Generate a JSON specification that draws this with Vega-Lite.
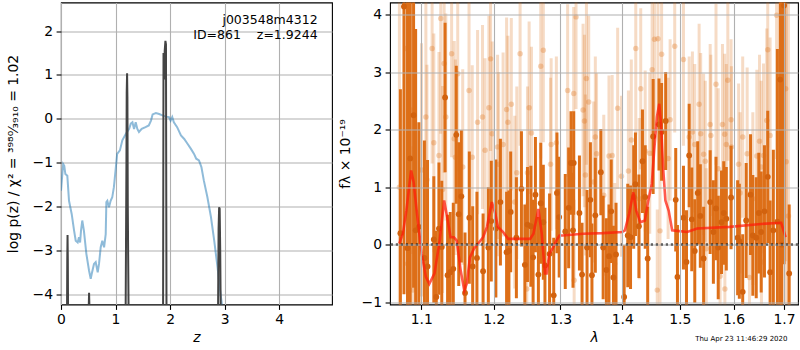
{
  "$schema": "https://vega.github.io/schema/vega-lite/v6.json",
  "padding": {"left": 5, "top": 1.5, "right": 0, "bottom": 0},
  "bounds": "flush",
  "spacing": 58,
  "config": {
    "font": "DejaVu Sans",
    "view": {"stroke": "black", "strokeWidth": 1.1},
    "axis": {"domain": false, "tickColor": "black", "tickSize": 4.9, "tickWidth": 1.1, "labelFontSize": 13.9, "labelColor": "black", "labelPadding": 3.5, "labelFlush": false, "labelOverlap": false, "gridColor": "#b0b0b0", "gridWidth": 1.1, "gridOpacity": 1, "titleFontSize": 13.9, "titleFontWeight": "normal", "titleColor": "black"}
  },
  "datasets": {
    "pz": [
      {"z":0,"lp":-1.64},{"z":0.012,"lp":-1.45},{"z":0.04,"lp":-1.03},{"z":0.06,"lp":-1.07},{"z":0.08,"lp":-1.26},{"z":0.116,"lp":-1.3},{"z":0.147,"lp":-1.87},{"z":0.196,"lp":-2.17},{"z":0.24,"lp":-2.55},{"z":0.27,"lp":-2.78},{"z":0.306,"lp":-2.82},{"z":0.33,"lp":-2.7},{"z":0.35,"lp":-2.82},{"z":0.367,"lp":-2.55},{"z":0.39,"lp":-2.32},{"z":0.42,"lp":-2.55},{"z":0.465,"lp":-3.08},{"z":0.514,"lp":-3.46},{"z":0.545,"lp":-3.65},{"z":0.563,"lp":-3.54},{"z":0.605,"lp":-3.31},{"z":0.636,"lp":-3.27},{"z":0.673,"lp":-3.5},{"z":0.697,"lp":-3.31},{"z":0.728,"lp":-2.93},{"z":0.758,"lp":-2.78},{"z":0.79,"lp":-2.93},{"z":0.82,"lp":-2.63},{"z":0.832,"lp":-1.9},{"z":0.85,"lp":-1.87},{"z":0.88,"lp":-2.02},{"z":0.91,"lp":-1.87},{"z":0.94,"lp":-1.79},{"z":0.97,"lp":-1.56},{"z":1.0,"lp":-1.18},{"z":1.03,"lp":-0.8},{"z":1.08,"lp":-0.72},{"z":1.125,"lp":-0.49},{"z":1.19,"lp":-0.34},{"z":1.25,"lp":-0.23},{"z":1.28,"lp":-0.11},{"z":1.31,"lp":-0.08},{"z":1.34,"lp":-0.23},{"z":1.37,"lp":-0.08},{"z":1.4,"lp":-0.23},{"z":1.43,"lp":-0.3},{"z":1.48,"lp":-0.23},{"z":1.55,"lp":-0.19},{"z":1.61,"lp":-0.15},{"z":1.65,"lp":-0.04},{"z":1.68,"lp":0.1},{"z":1.74,"lp":0.13},{"z":1.8,"lp":0.11},{"z":1.86,"lp":0.08},{"z":1.92,"lp":0.05},{"z":1.98,"lp":0.04},{"z":2.01,"lp":-0.04},{"z":2.04,"lp":0.04},{"z":2.07,"lp":-0.08},{"z":2.13,"lp":-0.19},{"z":2.2,"lp":-0.38},{"z":2.26,"lp":-0.46},{"z":2.32,"lp":-0.57},{"z":2.38,"lp":-0.68},{"z":2.44,"lp":-0.8},{"z":2.48,"lp":-0.91},{"z":2.53,"lp":-0.95},{"z":2.575,"lp":-1.1},{"z":2.62,"lp":-1.41},{"z":2.685,"lp":-1.79},{"z":2.75,"lp":-2.24},{"z":2.81,"lp":-2.78},{"z":2.87,"lp":-3.38},{"z":2.91,"lp":-3.84},{"z":2.95,"lp":-4.22},{"z":2.97,"lp":-4.5}
    ],
    "spikes": [
      {"pk":"a","z":0.11,"lp":-4.5},{"pk":"a","z":0.115,"lp":-3.2},{"pk":"a","z":0.12,"lp":-2.65},{"pk":"a","z":0.125,"lp":-3.2},{"pk":"a","z":0.13,"lp":-4.5},
      {"pk":"b","z":0.505,"lp":-4.5},{"pk":"b","z":0.515,"lp":-3.97},{"pk":"b","z":0.525,"lp":-4.5},
      {"pk":"c","z":1.185,"lp":-4.5},{"pk":"c","z":1.2,"lp":-1},{"pk":"c","z":1.205,"lp":0.6},{"pk":"c","z":1.212,"lp":1.04},{"pk":"c","z":1.218,"lp":0.5},{"pk":"c","z":1.225,"lp":-2},{"pk":"c","z":1.24,"lp":-4.5},
      {"pk":"d","z":1.872,"lp":-4.5},{"pk":"d","z":1.88,"lp":1.5},{"pk":"d","z":1.89,"lp":0.9},{"pk":"d","z":1.902,"lp":1.55},{"pk":"d","z":1.915,"lp":1.78},{"pk":"d","z":1.925,"lp":1.7},{"pk":"d","z":1.935,"lp":-4.5},
      {"pk":"e","z":2.88,"lp":-4.5},{"pk":"e","z":2.89,"lp":-2.5},{"pk":"e","z":2.9,"lp":-2.02},{"pk":"e","z":2.91,"lp":-2.05},{"pk":"e","z":2.92,"lp":-3},{"pk":"e","z":2.93,"lp":-4.5}
    ],
    "ann": [
      {"z":4.706,"lp":2.25,"t":"j003548m4312"},
      {"z":4.706,"lp":1.907,"t":"ID=861\u00a0\u00a0\u00a0\u00a0z=1.9244"}
    ],
    "dark": [
      {"lam":1.0728,"f":0.2,"e":2.5},{"lam":1.0774,"f":4.14,"e":5},{"lam":1.082,"f":-0.06,"e":4.5},{"lam":1.0855,"f":1.5,"e":3.2},{"lam":1.0899,"f":2.25,"e":3},{"lam":1.0926,"f":0.25,"e":3.5},{"lam":1.0968,"f":0.31,"e":1.82},{"lam":1.1042,"f":-0.23,"e":2.04},{"lam":1.1083,"f":-0.38,"e":1.85},{"lam":1.1167,"f":0.09,"e":1.1},{"lam":1.12,"f":-0.91,"e":1.15},{"lam":1.1236,"f":0.28,"e":1.15},{"lam":1.1274,"f":-0.04,"e":1.15},{"lam":1.1319,"f":2.56,"e":1.3},{"lam":1.1353,"f":-0.53,"e":1.05},{"lam":1.1389,"f":-0.48,"e":1.05},{"lam":1.1431,"f":-0.42,"e":1.15},{"lam":1.1472,"f":1.91,"e":1.2},{"lam":1.1506,"f":0.53,"e":1.25},{"lam":1.1542,"f":0.84,"e":1.15},{"lam":1.1593,"f":-0.84,"e":1.05},{"lam":1.1653,"f":0.47,"e":1.15},{"lam":1.17,"f":-0.38,"e":1.05},{"lam":1.176,"f":-0.23,"e":1.15},{"lam":1.1847,"f":-0.46,"e":1.0},{"lam":1.1922,"f":-0.05,"e":1.05},{"lam":1.1964,"f":0.41,"e":1.05},{"lam":1.203,"f":0.28,"e":1.2},{"lam":1.2096,"f":0.74,"e":1.1},{"lam":1.2186,"f":-0.13,"e":1.05},{"lam":1.222,"f":-0.11,"e":1.05},{"lam":1.2246,"f":0.57,"e":1.05},{"lam":1.233,"f":0.12,"e":1.05},{"lam":1.2405,"f":0.97,"e":1.0},{"lam":1.2456,"f":-0.35,"e":1.05},{"lam":1.2495,"f":0.35,"e":1.0},{"lam":1.2546,"f":0.32,"e":1.05},{"lam":1.258,"f":-0.22,"e":1.0},{"lam":1.2615,"f":0.87,"e":1.0},{"lam":1.266,"f":-0.52,"e":1.0},{"lam":1.2696,"f":0.72,"e":1.05},{"lam":1.2735,"f":0.39,"e":1.0},{"lam":1.276,"f":-0.36,"e":1.0},{"lam":1.2831,"f":-0.16,"e":1.05},{"lam":1.2895,"f":-0.88,"e":1.0},{"lam":1.2945,"f":0.9,"e":1.05},{"lam":1.298,"f":0.48,"e":1.05},{"lam":1.3075,"f":0.23,"e":1.0},{"lam":1.3128,"f":0.64,"e":1.05},{"lam":1.3165,"f":1.42,"e":0.9},{"lam":1.3197,"f":0.25,"e":1.0},{"lam":1.3208,"f":1.42,"e":0.9},{"lam":1.3299,"f":0.55,"e":1.0},{"lam":1.3341,"f":-0.52,"e":0.9},{"lam":1.3421,"f":-0.05,"e":1.0},{"lam":1.3475,"f":0.78,"e":1.0},{"lam":1.35,"f":-0.53,"e":0.9},{"lam":1.3555,"f":0.51,"e":1.0},{"lam":1.3645,"f":1.26,"e":0.75},{"lam":1.3683,"f":-0.05,"e":0.9},{"lam":1.3736,"f":-0.44,"e":0.9},{"lam":1.3779,"f":-0.2,"e":0.9},{"lam":1.3816,"f":0.58,"e":0.9},{"lam":1.3853,"f":-0.57,"e":0.9},{"lam":1.3896,"f":-0.17,"e":0.9},{"lam":1.4032,"f":-0.91,"e":0.9},{"lam":1.4093,"f":0.16,"e":0.9},{"lam":1.414,"f":0.13,"e":0.9},{"lam":1.4194,"f":0.83,"e":0.9},{"lam":1.4224,"f":1.05,"e":0.9},{"lam":1.4283,"f":0.32,"e":0.9},{"lam":1.4344,"f":1.45,"e":0.9},{"lam":1.4391,"f":0.83,"e":0.9},{"lam":1.4434,"f":-0.24,"e":0.9},{"lam":1.4529,"f":1.88,"e":1.0},{"lam":1.4631,"f":2.09,"e":0.8},{"lam":1.4677,"f":1.96,"e":0.85},{"lam":1.4749,"f":2.15,"e":0.85},{"lam":1.4928,"f":0.78,"e":0.9},{"lam":1.4959,"f":-0.56,"e":0.9},{"lam":1.5067,"f":0.47,"e":0.9},{"lam":1.5122,"f":-0.3,"e":0.9},{"lam":1.5171,"f":1.55,"e":0.9},{"lam":1.5218,"f":0.44,"e":0.9},{"lam":1.5273,"f":-0.11,"e":0.9},{"lam":1.5327,"f":0.9,"e":0.9},{"lam":1.5375,"f":0.5,"e":0.9},{"lam":1.5436,"f":-0.24,"e":0.9},{"lam":1.5558,"f":0.74,"e":0.9},{"lam":1.5618,"f":0.22,"e":0.9},{"lam":1.5667,"f":0.63,"e":0.9},{"lam":1.5709,"f":-0.05,"e":0.9},{"lam":1.5771,"f":0.39,"e":0.9},{"lam":1.5813,"f":0.55,"e":0.9},{"lam":1.5862,"f":0.45,"e":0.9},{"lam":1.5953,"f":0.82,"e":0.9},{"lam":1.6079,"f":0.12,"e":1.0},{"lam":1.6112,"f":0.06,"e":1.0},{"lam":1.6177,"f":-0.82,"e":1.0},{"lam":1.6245,"f":0.42,"e":1.0},{"lam":1.633,"f":0.87,"e":1.05},{"lam":1.6375,"f":0.16,"e":1.05},{"lam":1.6442,"f":0.12,"e":1.05},{"lam":1.6493,"f":0.55,"e":1.05},{"lam":1.654,"f":0.22,"e":1.05},{"lam":1.6605,"f":0.58,"e":1.15},{"lam":1.6671,"f":1.18,"e":1.15},{"lam":1.6718,"f":-0.48,"e":1.25},{"lam":1.6783,"f":0.25,"e":1.4},{"lam":1.6865,"f":0.4,"e":3.0},{"lam":1.6921,"f":2.87,"e":4.0},{"lam":1.6955,"f":0.0,"e":4.5},{"lam":1.7,"f":4.16,"e":4.5},{"lam":1.7105,"f":-0.5,"e":1.2}
    ],
    "light": [
      {"lam":1.0715,"f":1.0,"e":5},{"lam":1.0797,"f":3.41,"e":3},{"lam":1.082,"f":-0.33,"e":3},{"lam":1.0867,"f":2.34,"e":2.5},{"lam":1.089,"f":-0.79,"e":2.5},{"lam":1.1003,"f":1.3,"e":2.2},{"lam":1.1061,"f":2.22,"e":2.0},{"lam":1.1075,"f":1.13,"e":2.0},{"lam":1.1144,"f":3.41,"e":2.0},{"lam":1.1167,"f":1.77,"e":1.9},{"lam":1.1236,"f":1.55,"e":1.8},{"lam":1.126,"f":3.93,"e":2.0},{"lam":1.1285,"f":0.96,"e":1.8},{"lam":1.1306,"f":3.15,"e":1.9},{"lam":1.1329,"f":2.22,"e":1.8},{"lam":1.1408,"f":3.32,"e":1.8},{"lam":1.1444,"f":1.84,"e":1.7},{"lam":1.146,"f":1.52,"e":1.7},{"lam":1.1492,"f":2.97,"e":1.7},{"lam":1.1561,"f":1.35,"e":1.7},{"lam":1.1649,"f":2.68,"e":1.7},{"lam":1.1694,"f":1.52,"e":1.6},{"lam":1.1769,"f":2.13,"e":1.6},{"lam":1.1839,"f":2.22,"e":1.6},{"lam":1.1875,"f":1.64,"e":1.6},{"lam":1.193,"f":2.38,"e":1.6},{"lam":1.1954,"f":3.23,"e":1.6},{"lam":1.1978,"f":1.93,"e":1.6},{"lam":1.2055,"f":1.7,"e":1.6},{"lam":1.207,"f":1.4,"e":1.6},{"lam":1.2135,"f":1.74,"e":1.6},{"lam":1.2186,"f":2.35,"e":1.6},{"lam":1.2205,"f":2.13,"e":1.5},{"lam":1.2255,"f":2.44,"e":1.5},{"lam":1.2306,"f":0.74,"e":1.5},{"lam":1.2336,"f":1.25,"e":1.5},{"lam":1.2385,"f":3.32,"e":1.6},{"lam":1.2485,"f":-0.77,"e":1.5},{"lam":1.2495,"f":1.25,"e":1.5},{"lam":1.252,"f":2.38,"e":1.5},{"lam":1.2555,"f":1.94,"e":1.5},{"lam":1.2696,"f":3.1,"e":1.6},{"lam":1.2735,"f":3.38,"e":1.6},{"lam":1.2846,"f":1.4,"e":1.5},{"lam":1.2855,"f":1.74,"e":1.5},{"lam":1.2936,"f":1.77,"e":1.5},{"lam":1.3112,"f":2.68,"e":1.5},{"lam":1.3208,"f":2.63,"e":1.5},{"lam":1.3215,"f":-0.62,"e":1.4},{"lam":1.3245,"f":3.96,"e":1.6},{"lam":1.3357,"f":2.34,"e":1.5},{"lam":1.3379,"f":2.15,"e":1.5},{"lam":1.3395,"f":1.21,"e":1.4},{"lam":1.3411,"f":2.89,"e":1.5},{"lam":1.3448,"f":2.48,"e":1.5},{"lam":1.3528,"f":1.09,"e":1.4},{"lam":1.3555,"f":1.87,"e":1.4},{"lam":1.3575,"f":1.58,"e":1.4},{"lam":1.3693,"f":0.86,"e":1.4},{"lam":1.3779,"f":1.54,"e":1.4},{"lam":1.3832,"f":1.55,"e":1.4},{"lam":1.3874,"f":-0.33,"e":1.4},{"lam":1.3923,"f":2.37,"e":1.4},{"lam":1.3987,"f":1.19,"e":1.4},{"lam":1.4104,"f":1.28,"e":1.4},{"lam":1.4153,"f":1.82,"e":1.4},{"lam":1.4229,"f":3.41,"e":1.5},{"lam":1.4289,"f":0.8,"e":1.4},{"lam":1.4314,"f":2.71,"e":1.4},{"lam":1.4391,"f":1.63,"e":1.4},{"lam":1.447,"f":1.59,"e":1.4},{"lam":1.4511,"f":3.04,"e":1.5},{"lam":1.4552,"f":3.57,"e":1.5},{"lam":1.4601,"f":-0.79,"e":1.4},{"lam":1.4613,"f":3.58,"e":1.5},{"lam":1.4649,"f":0.24,"e":1.4},{"lam":1.4677,"f":3.31,"e":1.5},{"lam":1.4792,"f":1.5,"e":1.4},{"lam":1.4828,"f":2.17,"e":1.4},{"lam":1.491,"f":3.45,"e":1.5},{"lam":1.5067,"f":3.22,"e":1.5},{"lam":1.5171,"f":1.87,"e":1.4},{"lam":1.523,"f":1.96,"e":1.4},{"lam":1.5273,"f":1.74,"e":1.4},{"lam":1.5353,"f":2.44,"e":1.4},{"lam":1.5382,"f":1.93,"e":1.4},{"lam":1.5436,"f":1.57,"e":1.4},{"lam":1.5467,"f":1.45,"e":1.4},{"lam":1.5485,"f":-0.07,"e":1.4},{"lam":1.5558,"f":2.09,"e":1.4},{"lam":1.557,"f":1.9,"e":1.4},{"lam":1.5667,"f":2.79,"e":1.4},{"lam":1.5709,"f":1.32,"e":1.4},{"lam":1.5744,"f":-0.55,"e":1.4},{"lam":1.5789,"f":2.09,"e":1.4},{"lam":1.5831,"f":1.92,"e":1.4},{"lam":1.5835,"f":-0.77,"e":1.4},{"lam":1.5862,"f":1.74,"e":1.4},{"lam":1.5891,"f":2.86,"e":1.4},{"lam":1.5953,"f":2.17,"e":1.4},{"lam":1.596,"f":1.7,"e":1.4},{"lam":1.6098,"f":1.4,"e":1.4},{"lam":1.6126,"f":0.9,"e":1.4},{"lam":1.6177,"f":1.87,"e":1.4},{"lam":1.6264,"f":1.58,"e":1.5},{"lam":1.6309,"f":-0.57,"e":1.5},{"lam":1.6375,"f":0.8,"e":1.5},{"lam":1.6454,"f":1.54,"e":1.5},{"lam":1.6507,"f":1.8,"e":1.5},{"lam":1.654,"f":1.35,"e":1.5},{"lam":1.6545,"f":-0.3,"e":1.5},{"lam":1.6586,"f":1.55,"e":1.6},{"lam":1.6651,"f":2.16,"e":1.6},{"lam":1.6671,"f":3.39,"e":1.7},{"lam":1.6718,"f":1.9,"e":1.7},{"lam":1.6849,"f":3.99,"e":2.5},{"lam":1.693,"f":1.0,"e":4.5},{"lam":1.7033,"f":2.71,"e":3},{"lam":1.7045,"f":1.44,"e":3},{"lam":1.709,"f":0.5,"e":4}
    ],
    "model": [
      {"lam":1.0714,"f":0.02},{"lam":1.076,"f":0.19},{"lam":1.0806,"f":0.6},{"lam":1.0867,"f":1.29},{"lam":1.0899,"f":1.09},{"lam":1.0944,"f":0.54},{"lam":1.1006,"f":-0.16},{"lam":1.1061,"f":-0.56},{"lam":1.1107,"f":-0.68},{"lam":1.1176,"f":-0.5},{"lam":1.1246,"f":0.07},{"lam":1.1306,"f":0.77},{"lam":1.1347,"f":0.48},{"lam":1.1394,"f":0.13},{"lam":1.144,"f":0.13},{"lam":1.1478,"f":0.07},{"lam":1.1533,"f":-0.45},{"lam":1.1583,"f":-0.8},{"lam":1.1617,"f":-0.68},{"lam":1.1662,"f":-0.22},{"lam":1.1718,"f":-0.07},{"lam":1.1778,"f":0.02},{"lam":1.1847,"f":0.13},{"lam":1.1903,"f":0.31},{"lam":1.1972,"f":0.74},{"lam":1.2021,"f":0.54},{"lam":1.206,"f":0.31},{"lam":1.2135,"f":0.22},{"lam":1.221,"f":0.1},{"lam":1.2336,"f":0.1},{"lam":1.2535,"f":0.1},{"lam":1.2585,"f":0.19},{"lam":1.266,"f":0.62},{"lam":1.2711,"f":0.19},{"lam":1.276,"f":-0.5},{"lam":1.2786,"f":-0.5},{"lam":1.2825,"f":-0.16},{"lam":1.2876,"f":-0.07},{"lam":1.2936,"f":0.07},{"lam":1.2985,"f":0.16},{"lam":1.3034,"f":0.16},{"lam":1.3355,"f":0.19},{"lam":1.3677,"f":0.2},{"lam":1.3997,"f":0.22},{"lam":1.4045,"f":0.25},{"lam":1.4117,"f":0.54},{"lam":1.4188,"f":0.91},{"lam":1.4237,"f":0.59},{"lam":1.4308,"f":0.39},{"lam":1.4385,"f":0.42},{"lam":1.4445,"f":0.77},{"lam":1.4506,"f":1.06},{"lam":1.4547,"f":1.64},{"lam":1.4595,"f":2.22},{"lam":1.4636,"f":2.45},{"lam":1.4667,"f":2.1},{"lam":1.4703,"f":1.35},{"lam":1.4744,"f":0.77},{"lam":1.4803,"f":0.59},{"lam":1.4864,"f":0.25},{"lam":1.4954,"f":0.24},{"lam":1.5135,"f":0.22},{"lam":1.5317,"f":0.28},{"lam":1.5924,"f":0.31},{"lam":1.6538,"f":0.36},{"lam":1.6941,"f":0.38},{"lam":1.7033,"f":0.13}
    ],
    "zero": [{"f":0}],
    "stamp": [{"lam":1.615,"f":-1.647,"t":"Thu Apr 23 11:46:29 2020"}]
  },
  "hconcat": [
    {
      "width": 271,
      "height": 302,
      "layer": [
        {
          "data": {"name": "pz"},
          "mark": {"type": "line", "color": "#1f77b4", "opacity": 0.5, "strokeWidth": 2, "clip": true},
          "encoding": {
            "x": {"field": "z", "type": "quantitative", "title": "z", "scale": {"domain": [0, 4.97], "nice": false, "zero": false}, "axis": {"titleFontStyle": "italic", "values": [0, 1, 2, 3, 4], "format": "d", "titlePadding": 4}},
            "y": {"field": "lp", "type": "quantitative", "title": "log p(z) / χ² = ³⁹⁸⁰⁄₃₉₁₀ = 1.02", "scale": {"domain": [-4.236, 2.654], "nice": false, "zero": false}, "axis": {"values": [-4, -3, -2, -1, 0, 1, 2], "format": "d", "titlePadding": 12}}
          }
        },
        {
          "data": {"name": "spikes"},
          "mark": {"type": "line", "color": "#444444", "strokeWidth": 2, "clip": true},
          "encoding": {
            "x": {"field": "z", "type": "quantitative", "title": "z", "scale": {"domain": [0, 4.97], "nice": false, "zero": false}},
            "y": {"field": "lp", "type": "quantitative", "title": "log p(z) / χ² = ³⁹⁸⁰⁄₃₉₁₀ = 1.02", "scale": {"domain": [-4.236, 2.654], "nice": false, "zero": false}},
            "detail": {"field": "pk"}
          }
        },
        {
          "data": {"name": "ann"},
          "mark": {"type": "text", "align": "right", "baseline": "middle", "fontSize": 12.5, "color": "black"},
          "encoding": {
            "x": {"field": "z", "type": "quantitative", "title": "z", "scale": {"domain": [0, 4.97], "nice": false, "zero": false}},
            "y": {"field": "lp", "type": "quantitative", "title": "log p(z) / χ² = ³⁹⁸⁰⁄₃₉₁₀ = 1.02", "scale": {"domain": [-4.236, 2.654], "nice": false, "zero": false}},
            "text": {"field": "t"}
          }
        }
      ]
    },
    {
      "width": 408,
      "height": 302,
      "layer": [
        {
          "data": {"name": "light"},
          "mark": {"type": "errorbar", "color": "#dd6f18", "opacity": 0.25, "thickness": 3, "clip": true},
          "encoding": {
            "x": {"field": "lam", "type": "quantitative", "title": "λ", "scale": {"type": "log", "domain": [1.0595, 1.7287], "nice": false, "zero": false}, "axis": {"titleFontStyle": "italic", "values": [1.1, 1.2, 1.3, 1.4, 1.5, 1.6, 1.7], "format": ".1f", "titlePadding": 4, "zindex": 1}},
            "y": {"field": "f", "type": "quantitative", "title": "fλ × 10⁻¹⁹", "scale": {"domain": [-1.04, 4.21], "nice": false, "zero": false}, "axis": {"values": [-1, 0, 1, 2, 3, 4], "format": "d", "titlePadding": 9, "zindex": 1}},
            "yError": {"field": "e"}
          }
        },
        {
          "data": {"name": "light"},
          "mark": {"type": "circle", "color": "#dd6f18", "opacity": 0.3, "size": 30, "clip": true},
          "encoding": {
            "x": {"field": "lam", "type": "quantitative", "title": "λ", "scale": {"type": "log", "domain": [1.0595, 1.7287], "nice": false, "zero": false}},
            "y": {"field": "f", "type": "quantitative", "title": "fλ × 10⁻¹⁹", "scale": {"domain": [-1.04, 4.21], "nice": false, "zero": false}}
          }
        },
        {
          "data": {"name": "dark"},
          "mark": {"type": "errorbar", "color": "#dd6f18", "opacity": 1, "thickness": 3, "clip": true},
          "encoding": {
            "x": {"field": "lam", "type": "quantitative", "title": "λ", "scale": {"type": "log", "domain": [1.0595, 1.7287], "nice": false, "zero": false}},
            "y": {"field": "f", "type": "quantitative", "title": "fλ × 10⁻¹⁹", "scale": {"domain": [-1.04, 4.21], "nice": false, "zero": false}},
            "yError": {"field": "e"}
          }
        },
        {
          "data": {"name": "dark"},
          "mark": {"type": "circle", "color": "#d2620e", "opacity": 1, "size": 34, "clip": true},
          "encoding": {
            "x": {"field": "lam", "type": "quantitative", "title": "λ", "scale": {"type": "log", "domain": [1.0595, 1.7287], "nice": false, "zero": false}},
            "y": {"field": "f", "type": "quantitative", "title": "fλ × 10⁻¹⁹", "scale": {"domain": [-1.04, 4.21], "nice": false, "zero": false}}
          }
        },
        {
          "data": {"name": "model"},
          "mark": {"type": "line", "color": "#ff1a0a", "opacity": 0.72, "strokeWidth": 2.6, "clip": true},
          "encoding": {
            "x": {"field": "lam", "type": "quantitative", "title": "λ", "scale": {"type": "log", "domain": [1.0595, 1.7287], "nice": false, "zero": false}},
            "y": {"field": "f", "type": "quantitative", "title": "fλ × 10⁻¹⁹", "scale": {"domain": [-1.04, 4.21], "nice": false, "zero": false}}
          }
        },
        {
          "data": {"name": "zero"},
          "mark": {"type": "rule", "color": "#111111", "strokeWidth": 2.2, "strokeDash": [2.2, 2.8], "strokeCap": "butt"},
          "encoding": {"y": {"field": "f", "type": "quantitative", "title": "fλ × 10⁻¹⁹", "scale": {"domain": [-1.04, 4.21], "nice": false, "zero": false}}}
        },
        {
          "data": {"name": "stamp"},
          "mark": {"type": "text", "align": "center", "baseline": "middle", "fontSize": 7, "color": "black"},
          "encoding": {
            "x": {"field": "lam", "type": "quantitative", "title": "λ", "scale": {"type": "log", "domain": [1.0595, 1.7287], "nice": false, "zero": false}},
            "y": {"field": "f", "type": "quantitative", "title": "fλ × 10⁻¹⁹", "scale": {"domain": [-1.04, 4.21], "nice": false, "zero": false}},
            "text": {"field": "t"}
          }
        }
      ]
    }
  ]
}
